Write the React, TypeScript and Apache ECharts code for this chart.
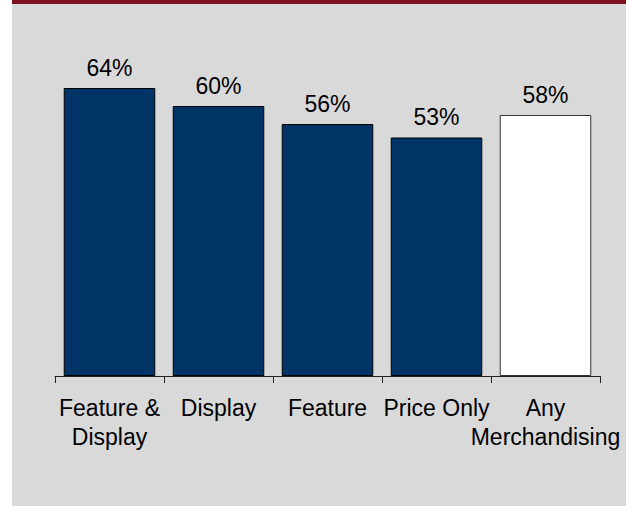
import React, { useEffect, useRef } from "react";
import * as echarts from "echarts";

const categories = ["Feature &\nDisplay", "Display", "Feature", "Price Only", "Any\nMerchandising"];
const values = [64, 60, 56, 53, 58];
const barColors = ["#003366", "#003366", "#003366", "#003366", "#ffffff"];

export default function App() {
  const ref = useRef<HTMLDivElement>(null);
  useEffect(() => {
    document.body.style.margin = "0";
    const chart = echarts.init(ref.current!, null, { renderer: "svg" });
    const font = "'Liberation Sans', Arial, sans-serif";
    chart.setOption({
      animation: false,
      backgroundColor: "#ffffff",
      graphic: [
        { type: "rect", z: -10, shape: { x: 12, y: 0, width: 614, height: 506 }, style: { fill: "#d9d9d9" } },
        { type: "rect", z: -9, shape: { x: 12, y: 0, width: 614, height: 4 }, style: { fill: "#7d1120" } },
      ],
      grid: { left: 55, right: 26, top: 61, bottom: 130 },
      xAxis: {
        type: "category",
        data: categories,
        axisLine: { show: true, lineStyle: { color: "#222", width: 1 } },
        axisTick: { show: true, length: 7, lineStyle: { color: "#222" } },
        axisLabel: {
          margin: 17,
          fontSize: 23,
          lineHeight: 29,
          color: "#000",
          fontFamily: font,
          interval: 0,
        },
      },
      yAxis: { type: "value", min: 0, max: 70, show: false, splitLine: { show: false } },
      series: [
        {
          type: "bar",
          barCategoryGap: "16%",
          data: values.map((v, i) => ({
            value: v,
            itemStyle: { color: barColors[i], borderColor: i === 4 ? "#333" : "#000", borderWidth: 1 },
          })),
          label: {
            show: true,
            position: "top",
            distance: 9,
            formatter: "{c}%",
            fontSize: 23,
            color: "#000",
            fontFamily: font,
          },
        },
      ],
    });
    return () => chart.dispose();
  }, []);
  return <div ref={ref} style={{ width: 626, height: 506 }} />;
}
